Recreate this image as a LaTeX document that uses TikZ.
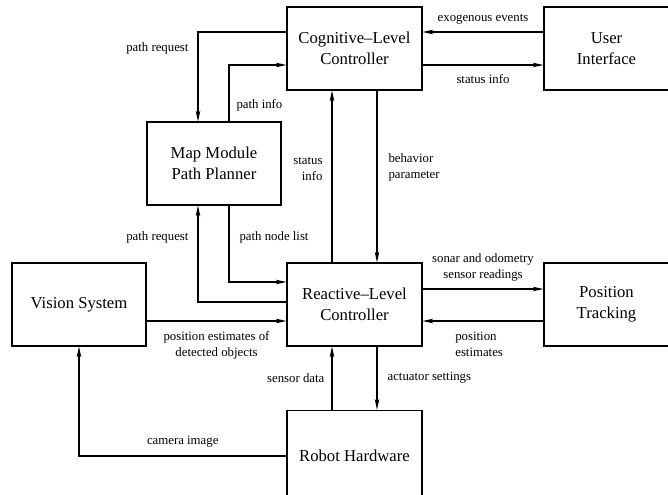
\documentclass[tikz,border=0pt]{standalone}
\usepackage{fontspec}
\setmainfont{Liberation Serif}
\usetikzlibrary{arrows.meta,calc,positioning}

\begin{document}
\begin{tikzpicture}[->, >= {Stealth[length=8pt,width=3.4pt,inset=1.8pt]}, x=0.75pt, y=0.75pt, line width=0.8pt]
\tikzstyle{block}=[draw=black, fill=none, text=black, align=center, minimum width=101.25pt, minimum height=62.25pt, font=\fontsize{12.5}{15.5}\selectfont]
\tikzstyle{lbl}=[font=\fontsize{9.6}{12}\selectfont, text=black]

\path[use as bounding box, clip] (0,0) rectangle (668,494);

\node[block]				(cog)		at (354.5,445.5)	{Cognitive–Level\\Controller};
\node[block, minimum width=93.75pt]	(user)	at (606.5,445.5)	{User\\Interface};
\node[block, minimum width=100.5pt]	(map)	at (214,330.5)	{Map Module\\Path Planner};
\node[block, minimum width=100.5pt]	(vision)	at (79,189.5)	{Vision System};
\node[block]				(react)	at (354.5,189.5)	{Reactive–Level\\Controller};
\node[block, minimum width=93.75pt]	(pos)	at (606.5,189.5)	{Position\\Tracking};
\node[block, minimum height=68.6pt]	(robot)	at (354.5,38)	{Robot Hardware};

\draw	($(cog.west)+(0,16.5)$)	-| node[lbl, pos=0.59, left=3.4pt] (lpr1) {path request}		($(map.north)+(-16,0)$);
\draw	($(map.north)+(15,0)$)	|- node[lbl, pos=0.14, right=1.9pt] (lpi) {path info}		($(cog.west)+(0,-16.5)$);
\draw	($(user.west)+(0,16.5)$)	-- node[lbl, above=2pt] (lexo) {exogenous events}		($(cog.east)+(0,16.5)$);
\draw	($(cog.east)+(0,-16.5)$)	-- node[lbl, below=3.5pt] (lsi1) {status info}		($(user.west)+(0,-16.5)$);
\draw	($(react.north)+(-22.5,0)$)	-- node[lbl, pos=0.546, left=3.4pt, align=right] (lsi2) {status\\info}	($(cog.south)+(-22.5,0)$);
\draw	($(cog.south)+(22.5,0)$)	-- node[lbl, pos=0.45, right=4.9pt, align=left] (lbp) {behavior\\parameter}	($(react.north)+(22.5,0)$);
\draw	($(react.west)+(0,2.5)$)	-| node[lbl, pos=0.835, left=3.4pt] (lpr2) {path request}	($(map.south)+(-16,0)$);
\draw	($(map.south)+(15,0)$)	|- node[lbl, pos=0.208, right=4.2pt] (lpnl) {path node list}	($(react.west)+(0,22.5)$);
\draw	($(vision.east)+(0,-16.5)$)	-- node[lbl, below=4.3pt, align=center] (lped) {position estimates of\\detected objects}	($(react.west)+(0,-16.5)$);
\draw	($(react.east)+(0,15.5)$)	-- node[lbl, above=2.1pt, align=center] (lsonar) {sonar and odometry\\sensor readings}	($(pos.west)+(0,15.5)$);
\draw	($(pos.west)+(0,-16.5)$)	-- node[lbl, pos=0.77, anchor=north west, yshift=-4.3pt, align=left] (lpe) {position\\estimates}	($(react.east)+(0,-16.5)$);
\draw	($(react.south)+(22.5,0)$)	-- node[lbl, right=4.2pt] (lact) {actuator settings}		($(robot.north)+(22.5,0)$);
\draw	($(robot.north)+(-22.5,0)$)	-- node[lbl, left=2pt] (lsd) {sensor data}		($(react.south)+(-22.5,0)$);
\draw	(robot.west)			-| node[lbl, pos=0.25, above=2.9pt] (lcam) {camera image}	(vision.south);

\end{tikzpicture}
\end{document}
